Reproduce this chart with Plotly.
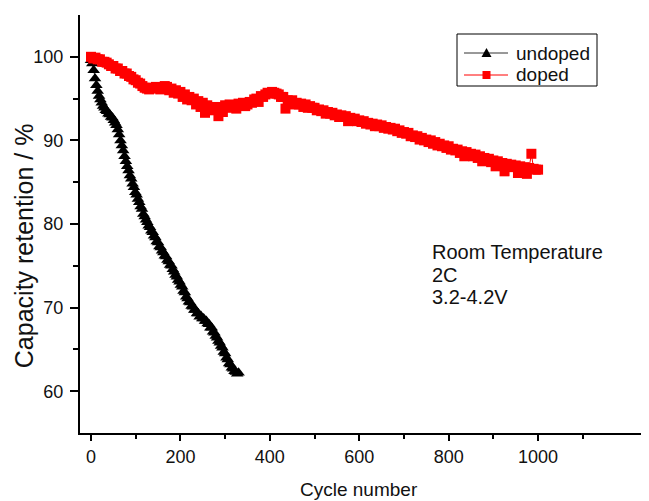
import plotly.graph_objects as go

# ---------------- data ----------------
undoped_cycles = list(range(0, 331, 3))
undoped_values = [
    99.6, 99.2, 98.4, 97.4, 96.6, 95.9, 95.3, 94.9, 94.5, 94.1,
    93.9, 93.6, 93.5, 93.2, 93.1, 92.8, 92.7, 92.4, 92.1, 91.8,
    91.3, 90.7, 90.0, 89.4, 88.8, 88.1, 87.5, 86.9, 86.4, 85.8,
    85.4, 84.8, 84.4, 83.8, 83.5, 83.0, 82.6, 82.1, 81.8, 81.2,
    80.9, 80.5, 80.2, 79.8, 79.6, 79.2, 79.0, 78.6, 78.4, 77.9,
    77.8, 77.3, 77.2, 76.8, 76.6, 76.2, 76.1, 75.7, 75.5, 75.1,
    75.0, 74.6, 74.3, 73.9, 73.7, 73.3, 73.1, 72.7, 72.5, 72.0,
    71.8, 71.3, 71.1, 70.7, 70.6, 70.2, 70.1, 69.7, 69.7, 69.3,
    69.3, 68.9, 69.0, 68.7, 68.7, 68.4, 68.4, 68.1, 68.0, 67.6,
    67.6, 67.1, 67.0, 66.6, 66.4, 66.0, 65.8, 65.4, 65.2, 64.7,
    64.5, 64.0, 63.8, 63.3, 63.2, 62.8, 62.7, 62.4, 62.3, 62.1,
    62.2,
]

doped_cycles = list(range(0, 1001, 5))
doped_values = [
    100.0, 99.8, 99.9, 99.7, 99.7, 99.4, 99.4, 99.3, 99.1, 98.9,
    98.9, 98.6, 98.6, 98.3, 98.3, 98.0, 98.0, 97.7, 97.6, 97.3,
    97.2, 96.9, 96.8, 96.5, 96.3, 96.2, 96.1, 96.3, 96.2, 96.4,
    96.3, 96.1, 96.3, 96.5, 96.4, 96.0, 96.2, 95.7, 96.0, 95.6,
    95.8, 95.2, 95.5, 94.9, 95.2, 94.8, 95.0, 94.3, 94.7, 94.0,
    94.5, 93.3, 94.2, 93.6, 94.0, 93.7, 93.8, 92.9, 94.0, 93.4,
    94.2, 93.9, 94.3, 94.0, 94.1, 93.8, 94.4, 94.2, 94.5, 94.1,
    94.3, 94.6, 94.5, 94.9, 95.0, 94.6, 95.3, 95.2, 95.5, 95.7,
    95.6, 95.8, 95.7, 95.6, 95.5, 95.2, 95.2, 93.8, 94.8, 94.6,
    94.8, 94.3, 94.5, 94.3, 94.4, 94.0, 94.3, 93.9, 94.1, 93.9,
    93.9, 93.6, 93.7, 93.5, 93.6, 93.2, 93.4, 93.2, 93.3, 93.0,
    93.1, 92.8, 93.0, 92.8, 92.9, 92.3, 92.7, 92.4, 92.6, 92.3,
    92.4, 92.2, 92.3, 92.0, 92.1, 91.9, 92.0, 91.7, 91.9, 91.7,
    91.8, 91.5, 91.6, 91.4, 91.5, 91.3, 91.4, 91.1, 91.2, 90.9,
    91.0, 90.8, 90.9, 90.5, 90.6, 90.4, 90.5, 90.1, 90.3, 90.0,
    90.1, 89.8, 90.0, 89.6, 89.8, 89.4, 89.6, 89.3, 89.4, 89.1,
    89.3, 88.9, 89.0, 88.8, 88.9, 88.5, 88.7, 88.1, 88.6, 88.3,
    88.4, 88.1, 88.3, 87.9, 88.1, 87.5, 87.9, 87.6, 87.8, 87.4,
    87.6, 86.9, 87.5, 87.2, 87.3, 86.3, 87.2, 87.0, 87.1, 86.8,
    87.0, 86.1, 86.9, 86.7, 86.8, 86.0, 86.7, 88.4, 86.6, 86.5,
    86.5,
]

series_names = ["undoped", "doped"]
y_ticks = [60, 70, 80, 90, 100]
y_minor = [65, 75, 85, 95]
x_ticks = [0, 200, 400, 600, 800, 1000]
x_minor = [100, 300, 500, 700, 900, 1100]

FONT = "Liberation Sans, Arial, sans-serif"

fig = go.Figure()
fig.add_trace(go.Scatter(
    x=undoped_cycles, y=undoped_values, name=series_names[0], mode="lines+markers",
    line=dict(color="#222", width=1),
    marker=dict(symbol="triangle-up", size=11, color="black", line=dict(width=0)),
    showlegend=False,
))
fig.add_trace(go.Scatter(
    x=doped_cycles, y=doped_values, name=series_names[1], mode="lines+markers",
    line=dict(color="red", width=1),
    marker=dict(symbol="square", size=10, color="red", line=dict(width=0)),
    showlegend=False,
))

# ---- plot-area geometry (pixels) used to place the legend box in paper units ----
L, R, T, B = 72, 649, 7, 425
W, H = R - L, B - T
px = lambda X: (X - L) / W
py = lambda Y: (B - Y) / H

shapes = []
# legend frame
shapes.append(dict(type="rect", xref="paper", yref="paper",
                   x0=px(449), x1=px(589), y0=py(78), y1=py(26),
                   line=dict(color="black", width=1), fillcolor="white", layer="above"))
entry_y = [45, 67]
entry_colors = ["#333", "red"]
for yy, col in zip(entry_y, entry_colors):
    shapes.append(dict(type="line", xref="paper", yref="paper",
                       x0=px(456), x1=px(500), y0=py(yy), y1=py(yy),
                       line=dict(color=col, width=1), layer="above"))
# legend symbols: triangle (undoped) and square (doped)
cx = 478.5
tri = "M {:.5f},{:.5f} L {:.5f},{:.5f} L {:.5f},{:.5f} Z".format(
    px(cx - 5), py(entry_y[0] + 4), px(cx + 5), py(entry_y[0] + 4), px(cx), py(entry_y[0] - 5))
shapes.append(dict(type="path", xref="paper", yref="paper", path=tri,
                   fillcolor="black", line=dict(width=0), layer="above"))
shapes.append(dict(type="rect", xref="paper", yref="paper",
                   x0=px(cx - 4), x1=px(cx + 4), y0=py(entry_y[1] + 4), y1=py(entry_y[1] - 4),
                   fillcolor="red", line=dict(width=0), layer="above"))

annotations = []
for name, yy in zip(series_names, entry_y):
    annotations.append(dict(text=name, xref="paper", yref="paper", x=px(506), y=py(yy),
                            xanchor="left", yanchor="middle", showarrow=False,
                            font=dict(size=19, family=FONT, color="#111")))

notes = ["Room Temperature", "2C", "3.2-4.2V"]
note_y = [0.433, 0.378, 0.325]
for t, yy in zip(notes, note_y):
    annotations.append(dict(text=t, xref="paper", yref="paper", x=0.607, y=yy,
                            xanchor="left", yanchor="middle", showarrow=False,
                            font=dict(size=20, family=FONT, color="#111")))
annotations.append(dict(
    text="Capacity retention / %", xref="paper", yref="paper",
    x=-0.097, y=0.447, xanchor="center", yanchor="middle", textangle=-90,
    showarrow=False, font=dict(size=25, family=FONT, color="#111"),
))
annotations.append(dict(
    text="Cycle number", xref="paper", yref="paper",
    x=0.4835, y=-0.136, xanchor="center", yanchor="middle",
    showarrow=False, font=dict(size=19, family=FONT, color="#111"),
))

fig.update_layout(
    width=649, height=501,
    margin=dict(l=L, r=0, t=T, b=501 - B),
    paper_bgcolor="white", plot_bgcolor="white",
    font=dict(family=FONT, color="black"),
    showlegend=False,
    shapes=shapes,
    annotations=annotations,
)
fig.update_xaxes(
    range=[-24.6, 1266], showgrid=False, zeroline=False,
    showline=True, linecolor="black", linewidth=2,
    ticks="outside", ticklen=6, tickwidth=2, tickcolor="black",
    tickmode="array", tickvals=x_ticks,
    tickfont=dict(size=18, family=FONT, color="#111"),
    minor=dict(tickmode="array", tickvals=x_minor, ticks="outside", ticklen=4, tickwidth=2, tickcolor="black"),
)
fig.update_yaxes(
    range=[55, 105], showgrid=False, zeroline=False,
    showline=True, linecolor="black", linewidth=2,
    ticks="outside", ticklen=8, tickwidth=2, tickcolor="black",
    tickmode="array", tickvals=y_ticks, ticklabelstandoff=3,
    tickfont=dict(size=18, family=FONT, color="#111"),
    minor=dict(tickmode="array", tickvals=y_minor, ticks="outside", ticklen=5, tickwidth=2, tickcolor="black"),
)

fig.write_html("out.html")
